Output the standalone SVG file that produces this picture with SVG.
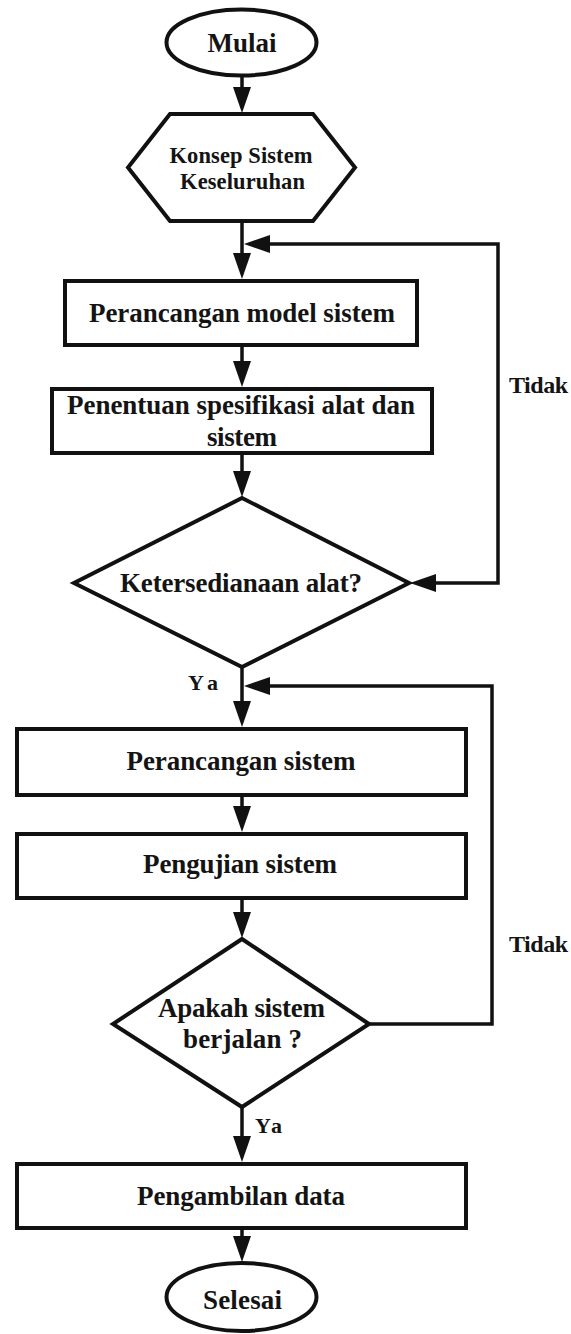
<svg xmlns="http://www.w3.org/2000/svg" width="571" height="1334" viewBox="0 0 571 1334">
  <style>
    .shape { fill: #ffffff; stroke: #111111; stroke-width: 4; stroke-linejoin: miter; }
    .conn { fill: none; stroke: #111111; stroke-width: 3.5; }
    text { font-family: "Liberation Serif", "Times New Roman", serif; font-weight: bold; fill: #141414; text-anchor: middle; }
    .t27 { font-size: 27px; }
    .t23 { font-size: 22.5px; }
    .lbl { font-size: 24px; }
    .ya { font-size: 22px; }
  </style>
  <defs>
    <marker id="arrow" markerUnits="userSpaceOnUse" markerWidth="26" markerHeight="18" refX="16" refY="9" orient="auto-start-reverse" viewBox="0 0 26 18">
      <path d="M0,0 L26,9 L0,18 Z" fill="#111111"/>
    </marker>
  </defs>
  <rect width="571" height="1334" fill="#ffffff"/>

  <!-- connectors -->
  <g id="connectors">
    <path class="conn" d="M242,77 V103" marker-end="url(#arrow)"/>
    <path class="conn" d="M242,222 V269" marker-end="url(#arrow)"/>
    <path class="conn" d="M242,347 V377" marker-end="url(#arrow)"/>
    <path class="conn" d="M242,455 V487" marker-end="url(#arrow)"/>
    <path class="conn" d="M242,668 V717" marker-end="url(#arrow)"/>
    <path class="conn" d="M242,797 V822" marker-end="url(#arrow)"/>
    <path class="conn" d="M242,900 V928" marker-end="url(#arrow)"/>
    <path class="conn" d="M242,1108 V1152" marker-end="url(#arrow)"/>
    <path class="conn" d="M242,1230 V1252" marker-end="url(#arrow)"/>
    <!-- "Tidak" return from the first decision -->
    <path class="conn" d="M420,583 H498 V244 H254" marker-start="url(#arrow)" marker-end="url(#arrow)"/>
    <!-- "Tidak" return from the second decision -->
    <path class="conn" d="M370,1024 H492 V686 H254" marker-end="url(#arrow)"/>
    <text class="lbl" x="538.5" y="393" textLength="59">Tidak</text>
    <text class="lbl" x="538.5" y="952" textLength="59">Tidak</text>
    <text class="ya" x="203" y="690" textLength="30">Ya</text>
    <text class="ya" x="268.5" y="1133" textLength="27">Ya</text>
  </g>

  <g id="start">
    <ellipse class="shape" cx="241.5" cy="42.5" rx="75" ry="33" stroke-width="3.5"/>
    <text class="t27" x="242" y="52" textLength="69">Mulai</text>
  </g>

  <g id="konsep">
    <polygon class="shape" points="170,114 313,114 355,167.5 313,221 170,221 128,167.5"/>
    <text class="t23" x="241" y="163" textLength="143">Konsep Sistem</text>
    <text class="t23" x="242.5" y="189" textLength="125">Keseluruhan</text>
  </g>

  <g id="model">
    <rect class="shape" x="65" y="281" width="352" height="64"/>
    <text class="t27" x="242" y="322" textLength="306">Perancangan model sistem</text>
  </g>

  <g id="spesifikasi">
    <rect class="shape" x="52" y="389" width="380" height="64"/>
    <text class="t27" x="241" y="414" textLength="348">Penentuan spesifikasi alat dan</text>
    <text class="t27" x="242" y="446" textLength="70">sistem</text>
  </g>

  <g id="ketersediaan">
    <polygon class="shape" points="242,498 409,583 242,667 74,583"/>
    <text class="t27" x="241" y="592" textLength="242">Ketersedianaan alat?</text>
  </g>

  <g id="perancangan">
    <rect class="shape" x="17" y="729" width="449" height="66"/>
    <text class="t27" x="241" y="770" textLength="229">Perancangan sistem</text>
  </g>

  <g id="pengujian">
    <rect class="shape" x="17" y="834" width="449" height="64"/>
    <text class="t27" x="240" y="873" textLength="194">Pengujian sistem</text>
  </g>

  <g id="berjalan">
    <polygon class="shape" points="242,939 369,1024 242,1107 113,1024"/>
    <text class="t27" x="241.5" y="1017" textLength="167">Apakah sistem</text>
    <text class="t27" x="242.5" y="1048" textLength="119">berjalan ?</text>
  </g>

  <g id="pengambilan">
    <rect class="shape" x="17" y="1164" width="449" height="64"/>
    <text class="t27" x="241" y="1205" textLength="208">Pengambilan data</text>
  </g>

  <g id="end">
    <ellipse class="shape" cx="241.5" cy="1297" rx="75" ry="34" stroke-width="3.5"/>
    <text class="t27" x="242.5" y="1309" textLength="79">Selesai</text>
  </g>
</svg>
